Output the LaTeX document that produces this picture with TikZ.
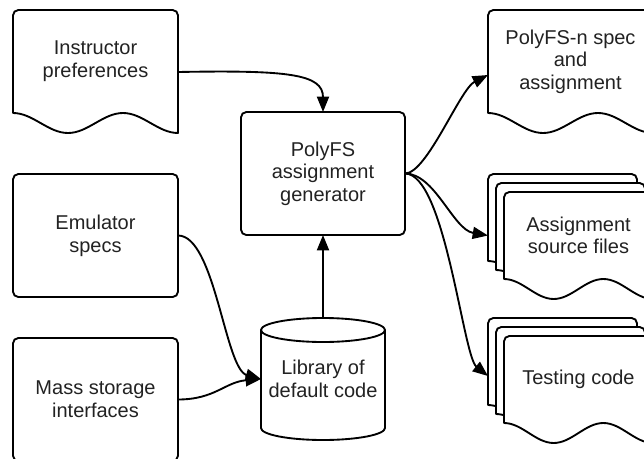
\documentclass[tikz,border=0pt]{standalone}
\usepackage{fontspec}
\setmainfont{Liberation Sans}
\usetikzlibrary{positioning, arrows.meta, backgrounds, calc}
\definecolor{inkgray}{HTML}{222222}

% document outline round a node: rounded top, wavy bottom (#1 = shift)
\newcommand{\docoutline}[2][0,0]{%
  \draw[outline] let \p1=($(#2.south west)+(#1)$), \p2=($(#2.north east)+(#1)$),
      \n1={(\x2-\x1)/6} in
    (\x1,\y1) [rounded corners=4pt] -- (\x1,\y2) -- (\x2,\y2) [sharp corners] -- (\x2,{\y1-15pt})
    cos ({\x2-\n1},{\y1-7.5pt}) sin ({\x2-2*\n1},\y1) cos ({\x2-3*\n1},{\y1-7.5pt})
    sin ({\x2-4*\n1},{\y1-15pt}) cos ({\x2-5*\n1},{\y1-7.5pt}) sin (\x1,\y1) -- cycle;}

% database outline round a node
\newcommand{\cylinderoutline}[1]{%
  \draw[outline] let \p1=(#1.south west), \p2=(#1.north east) in
    (\x1,{\y2-9pt}) -- (\x1,{\y1+9pt})
    arc[start angle=180, end angle=360, x radius={0.5*(\x2-\x1)}, y radius=9pt]
    -- (\x2,{\y2-9pt})
    arc[start angle=0, end angle=180, x radius={0.5*(\x2-\x1)}, y radius=9pt] -- cycle
    (\x1,{\y2-9pt}) arc[start angle=180, end angle=360, x radius={0.5*(\x2-\x1)}, y radius=9pt];}

\begin{document}
\begin{tikzpicture}[
    x=0.75pt, y=0.75pt,
    txt/.style={font=\fontsize{15}{17}\selectfont, text=inkgray, align=center,
                inner sep=0pt, outer sep=0pt},
    box/.style={txt, draw, rounded corners=4pt, line width=1.4pt,
                minimum width=123.75pt, minimum height=92.25pt},
    docbox/.style={txt, minimum width=123.75pt, minimum height=77.25pt},
    sheetbox/.style={txt, minimum width=111.75pt, minimum height=65.25pt},
    storebox/.style={txt, minimum width=93pt, minimum height=91.5pt},
    outline/.style={draw, fill=white, line width=1.4pt, line join=round},
    arr/.style={-{Triangle[length=11.5pt, width=9pt]}, line width=1.4pt},
  ]
  \useasboundingbox (0,0) rectangle (644,-458);
  \clip (0,0) rectangle (644,-458);

  % ── Inputs ──
  \node[docbox] at (95.5,-61.5) (pref) {Instructor\\preferences};
  \node[box, below=45.75pt of pref] (emul) {Emulator\\specs};
  \node[box, below=30.75pt of emul] (mass) {Mass storage\\interfaces};

  % ── Generator ──
  \node[box, minimum width=123pt] at (323,-173.5) (gen) {PolyFS\\assignment\\generator};
  \node[storebox, below=62.25pt of gen] (lib) {Library of\\default code};

  % ── Outputs ──
  \node[docbox] at (570.5,-61.5) (spec) {PolyFS-n spec\\and\\assignment};
  \node[sheetbox, below=59.25pt of spec, xshift=6pt] (src) {Assignment\\source files};
  \node[sheetbox, below=42.75pt of src] (test) {Testing code};

  % ── Outlines ──
  \begin{scope}[on background layer]
    \docoutline{pref}
    \docoutline{spec}
    \docoutline[-16,18]{src}
    \docoutline[-8,9]{src}
    \docoutline{src}
    \docoutline[-16,18]{test}
    \docoutline[-8,9]{test}
    \docoutline{test}
    \cylinderoutline{lib}
  \end{scope}

  % ── Links ──
  \draw[arr] ($(pref.east)+(0,-10.5)$) .. controls +(110,2) and +(0,38) .. (gen.north);
  \draw[arr] (emul.east) .. controls +(37,0) and +(-36,10) .. (lib.west);
  \draw[arr] (mass.east) .. controls +(37,0) and +(-36,-3) .. (lib.west);
  \draw[arr] (lib.north) -- (gen.south);
  \draw[arr] (gen.east) .. controls +(22,0) and +(-28,-14) .. ($(spec.west)+(0,-13.5)$);
  \draw[arr] (gen.east) .. controls +(30,0) and +(-35,6) .. ($(src.west)+(-16,0)$);
  \draw[arr] (gen.east) .. controls +(40,0) and +(-25,20) .. ($(test.west)+(-16,3.5)$);

\end{tikzpicture}
\end{document}
